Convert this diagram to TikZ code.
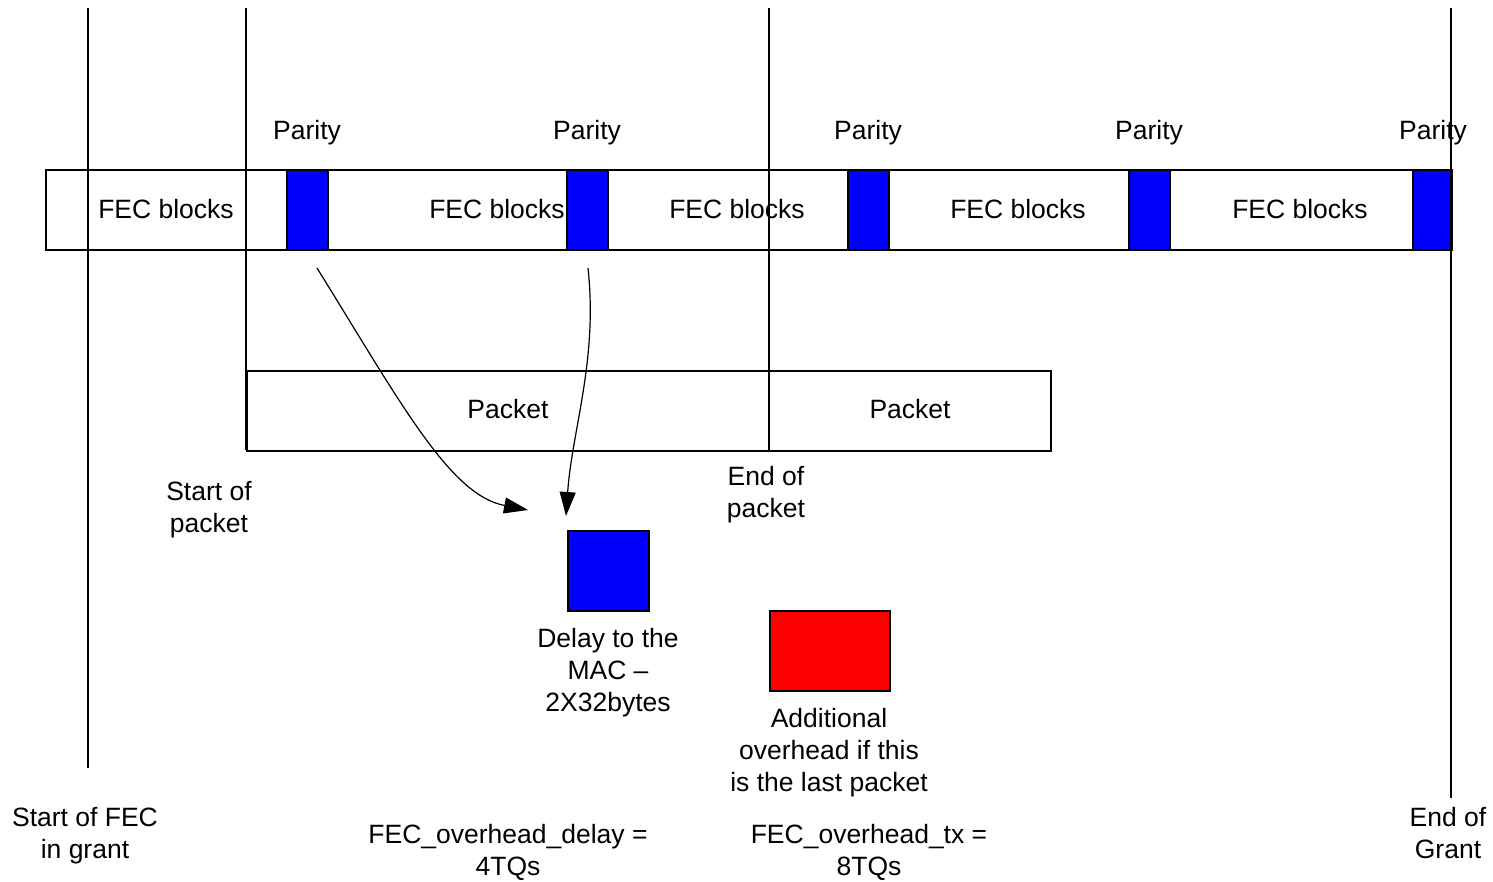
\documentclass[tikz,border=0pt]{standalone}
\usepackage{fontspec}
\setmainfont{Liberation Sans}
\usetikzlibrary{arrows.meta}
\newcommand{\txt}{\fontsize{26.5}{32}\selectfont}

\begin{document}
\begin{tikzpicture}[x=1pt, y=-1pt, line width=1.5pt,
  lbl/.style={align=center, font=\txt, inner sep=0pt},
  low/.style={lbl, yshift=-3pt},
  box/.style={draw, inner sep=0pt, anchor=north west},
  parbox/.style={box, fill=blue, minimum width=41, minimum height=80},
  arr/.style={line width=1.2pt, -{Triangle[length=24pt, width=16pt]}}]
\useasboundingbox (0,0) rectangle (1493,881);

% FEC band with parity blocks
\node[box, minimum width=1406, minimum height=80] (band) at (45,169) {};
\foreach \n/\x/\w in {1/286/41, 2/566/41, 3/847/41, 4/1128/41, 5/1412/39} {
 \node[parbox, minimum width=\w] (par\n) at (\x,169) {};
 \node[low] (parlbl\n) at (\x+21,130) {Parity};
 }
\foreach \n/\x in {1/166, 2/497, 3/737, 4/1018, 5/1300}
 \node[lbl] (fec\n) at (\x,209) {FEC blocks};

% packets
\node[box, minimum width=804, minimum height=80] (pkt) at (246,370) {};
\node[lbl] (pkta) at (508,409) {Packet};
\node[lbl] (pktb) at (910,409) {Packet};

% vertical markers
\foreach \n/\x/\yb in {a/88/768, b/246/450, c/769/450, d/1451/798} {
 \coordinate (top\n) at (\x,8);
 \coordinate (bot\n) at (\x,\yb);
 \draw (top\n) -- (bot\n);
 }

\node[low] (sop) at (209,507) {Start of\\packet};
\node[low] (eop) at (766,492) {End of\\packet};

% overhead blocks
\node[box, fill=blue, minimum width=81, minimum height=80] (delay) at (567,530) {};
\node[low] (delaylbl) at (608,670) {Delay to the\\MAC --\\2X32bytes};
\node[box, fill=red, minimum width=120, minimum height=80] (extra) at (769,610) {};
\node[low] (extralbl) at (829,750) {Additional\\overhead if this\\is the last packet};

% arrows from parity
\coordinate (s1) at (317,268);
\coordinate (s2) at (588,268);
\coordinate (e1) at (528,510);
\coordinate (e2) at (566,516);
\draw[arr] (s1) .. controls (402,405) and (450,495) .. (e1);
\draw[arr] (s2) .. controls (598,360) and (572,430) .. (e2);

% bottom labels
\node[low] (sfec) at (85,833) {Start of FEC\\in grant};
\node[low] (eog) at (1448,830) {End of\\Grant};
\node[low] (ohd) at (508,849) {FEC\_overhead\_delay =\\4TQs};
\node[low] (ohtx) at (869,849) {FEC\_overhead\_tx =\\8TQs};
\end{tikzpicture}
\end{document}
